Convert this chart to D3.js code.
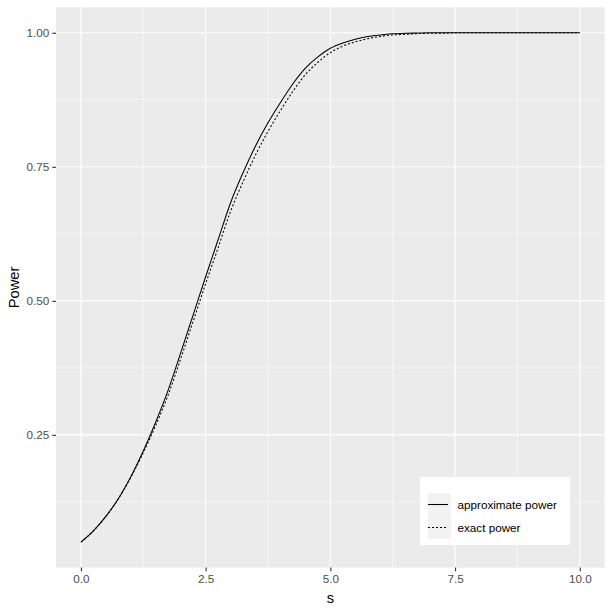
<!DOCTYPE html>
<html>
<head>
<meta charset="utf-8">
<script src="https://cdn.jsdelivr.net/npm/d3@7"></script>
<style>
  html, body { margin: 0; padding: 0; background: #ffffff; }
  svg { display: block; }
</style>
</head>
<body>
<div id="chart"></div>
<script>
// ---- data ----
const sValues = [0, 0.25, 0.5, 0.75, 1, 1.25, 1.5, 1.75, 2, 2.25, 2.5, 2.75, 3, 3.25, 3.5, 3.75,
  4, 4.25, 4.5, 4.75, 5, 5.25, 5.5, 5.75, 6, 6.25, 6.5, 6.75, 7, 7.25, 7.5, 7.75,
  8, 8.25, 8.5, 8.75, 9, 9.25, 9.5, 9.75, 10];
const approxPower = [0.050, 0.071, 0.098, 0.131, 0.172, 0.220, 0.274, 0.334, 0.403, 0.474, 0.545, 0.614, 0.683, 0.739, 0.789, 0.832,
  0.870, 0.905, 0.934, 0.955, 0.971, 0.981, 0.988, 0.993, 0.996, 0.998, 0.999, 0.9995, 1.000, 1.000, 1.000, 1.000,
  1.000, 1.000, 1.000, 1.000, 1.000, 1.000, 1.000, 1.000, 1.000];
const exactPower = [0.050, 0.071, 0.098, 0.131, 0.171, 0.217, 0.268, 0.325, 0.392, 0.462, 0.532, 0.599, 0.667, 0.722, 0.772, 0.816,
  0.855, 0.891, 0.922, 0.945, 0.963, 0.975, 0.983, 0.989, 0.993, 0.996, 0.997, 0.9985, 0.999, 0.999, 1.000, 1.000,
  1.000, 1.000, 1.000, 1.000, 1.000, 1.000, 1.000, 1.000, 1.000];
const seriesNames = ["approximate power", "exact power"];
const xTicks = [0, 2.5, 5, 7.5, 10];
const xTickLabels = ["0.0", "2.5", "5.0", "7.5", "10.0"];
const xMinor = [1.25, 3.75, 6.25, 8.75];
const yTicks = [0.25, 0.5, 0.75, 1.0];
const yTickLabels = ["0.25", "0.50", "0.75", "1.00"];
const yMinor = [0.125, 0.375, 0.625, 0.875];

// ---- layout ----
const W = 612, H = 612;
const panel = { left: 56, right: 604.7, top: 7.3, bottom: 567.6 };
const font = "'Liberation Sans', Arial, sans-serif";

const svg = d3.select("#chart").append("svg")
  .attr("width", W).attr("height", H);

const xMinD = 0, xMaxD = 10, yMinD = 0.05, yMaxD = 1.0;
const xPad = (xMaxD - xMinD) * 0.05, yPad = (yMaxD - yMinD) * 0.05;
const x = d3.scaleLinear().domain([xMinD - xPad, xMaxD + xPad]).range([panel.left, panel.right]);
const y = d3.scaleLinear().domain([yMinD - yPad, yMaxD + yPad]).range([panel.bottom, panel.top]);

// panel background
svg.append("rect")
  .attr("x", panel.left).attr("y", panel.top)
  .attr("width", panel.right - panel.left).attr("height", panel.bottom - panel.top)
  .attr("fill", "#EBEBEB");

const grid = svg.append("g");
// minor grid
grid.selectAll(".xminor").data(xMinor).enter().append("line")
  .attr("x1", d => x(d)).attr("x2", d => x(d))
  .attr("y1", panel.top).attr("y2", panel.bottom)
  .attr("stroke", "#ffffff").attr("stroke-width", 0.55);
grid.selectAll(".yminor").data(yMinor).enter().append("line")
  .attr("y1", d => y(d)).attr("y2", d => y(d))
  .attr("x1", panel.left).attr("x2", panel.right)
  .attr("stroke", "#ffffff").attr("stroke-width", 0.55);
// major grid
grid.selectAll(".xmajor").data(xTicks).enter().append("line")
  .attr("x1", d => x(d)).attr("x2", d => x(d))
  .attr("y1", panel.top).attr("y2", panel.bottom)
  .attr("stroke", "#ffffff").attr("stroke-width", 1.1);
grid.selectAll(".ymajor").data(yTicks).enter().append("line")
  .attr("y1", d => y(d)).attr("y2", d => y(d))
  .attr("x1", panel.left).attr("x2", panel.right)
  .attr("stroke", "#ffffff").attr("stroke-width", 1.1);

// axes
const xAxis = d3.axisBottom(x).tickValues(xTicks)
  .tickFormat((d, i) => xTickLabels[i]).tickSizeInner(3.7).tickSizeOuter(0).tickPadding(3);
const yAxis = d3.axisLeft(y).tickValues(yTicks)
  .tickFormat((d, i) => yTickLabels[i]).tickSizeInner(3.7).tickSizeOuter(0).tickPadding(3);

const gx = svg.append("g").attr("transform", `translate(0,${panel.bottom})`).call(xAxis);
const gy = svg.append("g").attr("transform", `translate(${panel.left},0)`).call(yAxis);
[gx, gy].forEach(g => {
  g.select(".domain").remove();
  g.selectAll(".tick line").attr("stroke", "#333333").attr("stroke-width", 1.1);
  g.selectAll(".tick text").attr("fill", "#4D4D4D")
    .style("font-family", font).style("font-size", "11.7px");
});

// axis titles
svg.append("text")
  .attr("x", (panel.left + panel.right) / 2).attr("y", 603)
  .attr("text-anchor", "middle")
  .style("font-family", font).style("font-size", "14.7px").attr("fill", "#000")
  .text("s");
svg.append("text")
  .attr("transform", `translate(19,${(panel.top + panel.bottom) / 2}) rotate(-90)`)
  .attr("text-anchor", "middle")
  .style("font-family", font).style("font-size", "14.7px").attr("fill", "#000")
  .text("Power");

// lines
const line = d3.line().x(d => x(d[0])).y(d => y(d[1])).curve(d3.curveMonotoneX);
const approxData = sValues.map((s, i) => [s, approxPower[i]]);
const exactData = sValues.map((s, i) => [s, exactPower[i]]);
const styles = [
  { data: approxData, dash: null },
  { data: exactData, dash: "2,2" }
];
svg.append("g").selectAll("path").data(styles).enter().append("path")
  .attr("d", d => line(d.data))
  .attr("fill", "none").attr("stroke", "#000")
  .attr("stroke-width", 1.07)
  .attr("stroke-dasharray", d => d.dash);

// legend
const lg = svg.append("g").attr("transform", "translate(420,477)");
lg.append("rect").attr("x", 0).attr("y", 0).attr("width", 150).attr("height", 68)
  .attr("fill", "#ffffff");
seriesNames.forEach((name, i) => {
  const ky = 16 + i * 23;
  lg.append("rect").attr("x", 8).attr("y", ky).attr("width", 23).attr("height", 23)
    .attr("fill", "#F2F2F2");
  lg.append("line").attr("x1", 8).attr("x2", 28)
    .attr("y1", ky + 11.5).attr("y2", ky + 11.5)
    .attr("stroke", "#000").attr("stroke-width", 1.07)
    .attr("stroke-dasharray", styles[i].dash);
  lg.append("text").attr("x", 37.5).attr("y", ky + 11.5).attr("dy", "0.35em")
    .style("font-family", font).style("font-size", "11.7px").attr("fill", "#000")
    .text(name);
});
</script>
</body>
</html>
